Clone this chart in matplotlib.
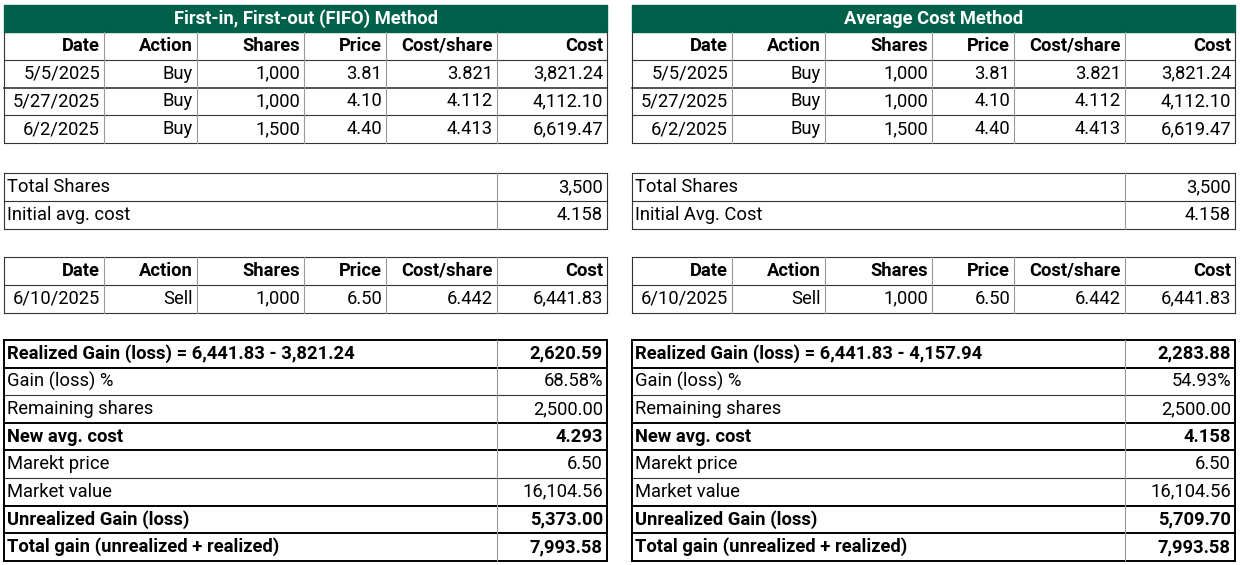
import matplotlib.pyplot as plt
from matplotlib import font_manager

titles = ['First-in, First-out (FIFO) Method', 'Average Cost Method']
col_names = ['Date', 'Action', 'Shares', 'Price', 'Cost/share', 'Cost']
buy_rows = [['5/5/2025', 'Buy', '1,000', '3.81', '3.821', '3,821.24'],
            ['5/27/2025', 'Buy', '1,000', '4.10', '4.112', '4,112.10'],
            ['6/2/2025', 'Buy', '1,500', '4.40', '4.413', '6,619.47']]
total_labels = [['Total Shares', 'Initial avg. cost'], ['Total Shares', 'Initial Avg. Cost']]
total_values = ['3,500', '4.158']
sell_row = ['6/10/2025', 'Sell', '1,000', '6.50', '6.442', '6,441.83']
summary_labels = [
    ['Realized Gain (loss) = 6,441.83 - 3,821.24', 'Gain (loss) %', 'Remaining shares', 'New avg. cost',
     'Marekt price', 'Market value', 'Unrealized Gain (loss)', 'Total gain (unrealized + realized)'],
    ['Realized Gain (loss) = 6,441.83 - 4,157.94', 'Gain (loss) %', 'Remaining shares', 'New avg. cost',
     'Marekt price', 'Market value', 'Unrealized Gain (loss)', 'Total gain (unrealized + realized)']]
summary_values = [
    ['2,620.59', '68.58%', '2,500.00', '4.293', '6.50', '16,104.56', '5,373.00', '7,993.58'],
    ['2,283.88', '54.93%', '2,500.00', '4.158', '6.50', '16,104.56', '5,709.70', '7,993.58']]
bold_rows = [0, 3, 6, 7]

names = {f.name for f in font_manager.fontManager.ttflist}
fam = 'Liberation Sans Narrow' if 'Liberation Sans Narrow' in names else 'Roboto'
plt.rcParams['font.family'] = [fam, 'DejaVu Sans']

green = '#00614A'
fig = plt.figure(figsize=(12.4, 5.65), dpi=100)
ax = fig.add_axes([0, 0, 1, 1])
ax.set_xlim(0, 1240)
ax.set_ylim(565, 0)
ax.axis('off')

fs = 13.2
rh = 27.8


def hline(x0, x1, y, lw=0.8, c='#333333'):
    ax.plot([x0, x1], [y, y], color=c, lw=lw)


def vline(x, y0, y1, lw=0.8, c='#999999'):
    ax.plot([x, x], [y0, y1], color=c, lw=lw)


for t in range(2):
    off = t * 628
    cols = [c + off for c in [4, 104, 197, 304, 386, 497, 607]]
    x0, x1 = cols[0], cols[-1]
    # title bar
    ax.add_patch(plt.Rectangle((x0, 5), x1 - x0, 27, color=green))
    ax.text((x0 + x1) / 2, 18.5, titles[t], color='white', fontsize=fs, fontweight='bold',
            ha='center', va='center')
    # buy table
    y = 32
    rows = [col_names] + buy_rows
    for i, r in enumerate(rows):
        for j, v in enumerate(r):
            ax.text(cols[j + 1] - 4, y + rh / 2, v, fontsize=fs, ha='right', va='center',
                    fontweight='bold' if i == 0 else 'normal')
        hline(x0, x1, y + rh, lw=1.2 if i == 1 else 0.8)
        y += rh
    for c in cols:
        vline(c, 32, y, c='#333333' if c in (x0, x1) else '#999999')
    # totals
    y = 173
    hline(x0, x1, y)
    for i in range(2):
        ax.text(x0 + 3, y + rh / 2, total_labels[t][i], fontsize=fs, ha='left', va='center')
        ax.text(x1 - 4, y + rh / 2, total_values[i], fontsize=fs, ha='right', va='center')
        hline(x0, x1, y + rh)
        y += rh
    for c in (x0, cols[5], x1):
        vline(c, 173, y, c='#333333' if c != cols[5] else '#999999')
    # sell table
    y = 257
    hline(x0, x1, y)
    for i, r in enumerate([col_names, sell_row]):
        for j, v in enumerate(r):
            ax.text(cols[j + 1] - 4, y + rh / 2, v, fontsize=fs, ha='right', va='center',
                    fontweight='bold' if i == 0 else 'normal')
        hline(x0, x1, y + rh)
        y += rh
    for c in cols:
        vline(c, 257, y, c='#333333' if c in (x0, x1) else '#999999')
    # summary
    y = 340
    hline(x0, x1, y, lw=1.4, c='black')
    for i in range(8):
        w = 'bold' if i in bold_rows else 'normal'
        ax.text(x0 + 3, y + 13.8, summary_labels[t][i], fontsize=fs, ha='left', va='center', fontweight=w)
        ax.text(x1 - 4, y + 13.8, summary_values[t][i], fontsize=fs, ha='right', va='center', fontweight=w)
        y += 27.6
        thick = i in (0, 2, 3, 5, 6, 7)
        hline(x0, x1, y, lw=1.4 if thick else 0.8, c='black' if thick else '#333333')
    vline(x0, 340, y, lw=1.4, c='black')
    vline(x1, 340, y, lw=1.4, c='black')
    vline(cols[5], 340, y)

fig.savefig('out.png', dpi=100)
